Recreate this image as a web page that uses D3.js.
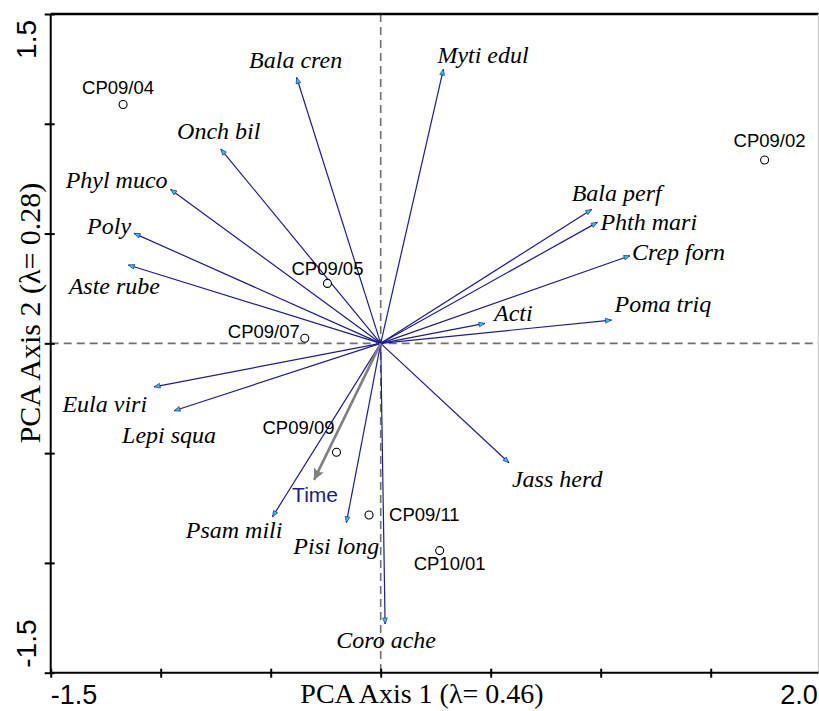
<!DOCTYPE html>
<html>
<head>
<meta charset="utf-8">
<script src="https://cdn.jsdelivr.net/npm/d3@7"></script>
<style>
  html, body { margin: 0; padding: 0; background: #fff; }
  svg { display: block; }
</style>
</head>
<body>
<svg id="chart" width="819" height="711"></svg>
<script>
// ---------------- DATA ----------------
const species  = ["Bala cren","Myti edul","Onch bil","Phyl muco","Poly","Aste rube",
                  "Bala perf","Phth mari","Crep forn","Acti","Poma triq",
                  "Eula viri","Lepi squa","Psam mili","Pisi long","Coro ache","Jass herd"];
const speciesX = [-0.382, 0.285, -0.727, -0.955, -1.121, -1.147,
                   0.959, 0.985, 1.133, 0.474, 1.049,
                  -1.030, -0.939, -0.492, -0.156, 0.020, 0.583];
const speciesY = [ 1.211, 1.249, 0.885, 0.701, 0.501, 0.357,
                   0.610, 0.551, 0.399, 0.091, 0.106,
                  -0.198, -0.307, -0.790, -0.817, -1.278, -0.544];

const samples  = ["CP09/04","CP09/02","CP09/05","CP09/07","CP09/09","CP09/11","CP10/01"];
const sampleX  = [-1.171, 1.745, -0.242, -0.345, -0.201, -0.053, 0.268];
const sampleY  = [ 1.088, 0.835,  0.273,  0.023, -0.496, -0.782, -0.944];

const envVars  = ["Time"];
const envX     = [-0.303];
const envY     = [-0.622];

const xTickValues = [-1.5, -1.0, -0.5, 0, 0.5, 1.0, 1.5, 2.0];
const yTickValues = [-1.5, -1.0, -0.5, 0, 0.5, 1.0, 1.5];
const xTickLabels = ["-1.5", "2.0"];
const yTickLabels = ["1.5", "-1.5"];
const xTitle = "PCA Axis 1 (\u03BB= 0.46)";
const yTitle = "PCA Axis 2 (\u03BB= 0.28)";

// ---------------- LABEL PLACEMENT (pixels, relative to mark) ----------------
const speciesLabelPos = {
  "Bala cren": [-1, -9, "middle"],
  "Myti edul": [-6, -6, "start"],
  "Onch bil":  [-2, -10, "middle"],
  "Phyl muco": [-3, -1, "end"],
  "Poly":      [-3, 1, "end"],
  "Aste rube": [-14, 29, "middle"],
  "Bala perf": [-20, -8, "start"],
  "Phth mari": [3, 8, "start"],
  "Crep forn": [2, 4, "start"],
  "Acti":      [9, -2, "start"],
  "Poma triq": [3, -8, "start"],
  "Eula viri": [-7, 25, "end"],
  "Lepi squa": [-5, 32, "middle"],
  "Psam mili": [10, 21, "end"],
  "Pisi long": [-10, 31, "middle"],
  "Coro ache": [1, 24, "middle"],
  "Jass herd": [3, 24, "start"]
};
const sampleLabelPos = {
  "CP09/04": [-5, -10, "middle"],
  "CP09/02": [5, -13, "middle"],
  "CP09/05": [0, -8, "middle"],
  "CP09/07": [-5, 0, "end"],
  "CP09/09": [-2, -18, "end"],
  "CP09/11": [20, 6, "start"],
  "CP10/01": [-26, 19, "start"]
};
const envLabelPos = { "Time": [1, 22, "middle"] };

// ---------------- CHART ----------------
const svg = d3.select("#chart");
const mLeft = 50.7, mRight = 820.7, mTop = 14, mBottom = 672.7, frameRight = 818.5;
const x = d3.scaleLinear().domain([-1.5, 2.0]).range([mLeft, mRight]);
const y = d3.scaleLinear().domain([-1.5, 1.5]).range([mBottom, mTop]);

const navy = "#1c1c8e";
const serif = "'Liberation Serif','Times New Roman',serif";
const sans = "'Liberation Sans',Arial,sans-serif";

const defs = svg.append("defs");
defs.append("marker")
  .attr("id", "headSp").attr("viewBox", "0 -5 10 10")
  .attr("refX", 10).attr("refY", 0)
  .attr("markerUnits", "userSpaceOnUse")
  .attr("markerWidth", 9).attr("markerHeight", 6)
  .attr("orient", "auto")
  .append("path").attr("d", "M0,-4L10,0L0,4Z")
  .attr("fill", "#35c0f0").attr("stroke", navy).attr("stroke-width", 1);
defs.append("marker")
  .attr("id", "headEnv").attr("viewBox", "0 -5 10 10")
  .attr("refX", 10).attr("refY", 0)
  .attr("markerUnits", "userSpaceOnUse")
  .attr("markerWidth", 18).attr("markerHeight", 11)
  .attr("orient", "auto")
  .append("path").attr("d", "M0,-5L10,0L0,5L2,0Z")
  .attr("fill", "#808080");

// dashed zero lines
svg.append("line")
  .attr("x1", mLeft).attr("x2", frameRight).attr("y1", y(0)).attr("y2", y(0))
  .attr("stroke", "#707070").attr("stroke-width", 1.6).attr("stroke-dasharray", "8,5");
svg.append("line")
  .attr("x1", x(0)).attr("x2", x(0)).attr("y1", mTop).attr("y2", mBottom)
  .attr("stroke", "#707070").attr("stroke-width", 1.6).attr("stroke-dasharray", "8,5");

// frame: top black, right light gray
svg.append("line").attr("x1", mLeft).attr("x2", frameRight).attr("y1", mTop).attr("y2", mTop)
  .attr("stroke", "#000").attr("stroke-width", 2.5);
svg.append("line").attr("x1", frameRight).attr("x2", frameRight).attr("y1", mTop).attr("y2", mBottom)
  .attr("stroke", "#cfcfcf").attr("stroke-width", 1.5);

// axes
const gx = svg.append("g").attr("transform", `translate(0,${mBottom})`)
  .call(d3.axisBottom(x).tickValues(xTickValues).tickFormat("").tickSizeOuter(0).tickSizeInner(5));
gx.select(".domain").attr("stroke", "#000").attr("stroke-width", 2)
  .attr("d", `M${mLeft},0H${frameRight}`);
gx.selectAll(".tick line").attr("y1", -4).attr("y2", 5).attr("stroke", "#000").attr("stroke-width", 2);

const gy = svg.append("g").attr("transform", `translate(${mLeft},0)`)
  .call(d3.axisLeft(y).tickValues(yTickValues).tickFormat("").tickSizeOuter(0).tickSizeInner(5));
gy.select(".domain").attr("stroke", "#000").attr("stroke-width", 2)
  .attr("d", `M0,${mTop}V${mBottom}`);
gy.selectAll(".tick line").attr("x1", -6).attr("x2", 4).attr("stroke", "#000").attr("stroke-width", 2);

// tick labels
svg.append("text").text(xTickLabels[0])
  .attr("x", x(-1.5)).attr("y", 704).attr("text-anchor", "start")
  .attr("font-family", sans).attr("font-size", 27).attr("fill", "#000");
svg.append("text").text(xTickLabels[1])
  .attr("x", x(2.0) - 3).attr("y", 704).attr("text-anchor", "end")
  .attr("font-family", sans).attr("font-size", 27).attr("fill", "#000");
svg.append("text").text(yTickLabels[0])
  .attr("transform", `translate(36,${y(1.5) + 6}) rotate(-90)`).attr("text-anchor", "end")
  .attr("font-family", sans).attr("font-size", 28).attr("fill", "#000");
svg.append("text").text(yTickLabels[1])
  .attr("transform", `translate(36,${y(-1.5) - 5}) rotate(-90)`).attr("text-anchor", "start")
  .attr("font-family", sans).attr("font-size", 28).attr("fill", "#000");

// axis titles
svg.append("text").text(xTitle)
  .attr("x", 422).attr("y", 703).attr("text-anchor", "middle")
  .attr("font-family", serif).attr("font-size", 28).attr("fill", "#000");
svg.append("text").text(yTitle)
  .attr("transform", `translate(40,313) rotate(-90)`).attr("text-anchor", "middle")
  .attr("font-family", serif).attr("font-size", 30).attr("fill", "#000");

// species arrows
const spData = species.map((s, i) => ({ name: s, x: speciesX[i], y: speciesY[i] }));
svg.append("g").selectAll("line").data(spData).join("line")
  .attr("x1", x(0)).attr("y1", y(0))
  .attr("x2", d => x(d.x)).attr("y2", d => y(d.y))
  .attr("stroke", navy).attr("stroke-width", 1.2)
  .attr("marker-end", "url(#headSp)");

// env arrow
const envData = envVars.map((s, i) => ({ name: s, x: envX[i], y: envY[i] }));
svg.append("g").selectAll("line").data(envData).join("line")
  .attr("x1", x(0)).attr("y1", y(0))
  .attr("x2", d => x(d.x)).attr("y2", d => y(d.y))
  .attr("stroke", "#808080").attr("stroke-width", 2.6)
  .attr("marker-end", "url(#headEnv)");

// samples
const smData = samples.map((s, i) => ({ name: s, x: sampleX[i], y: sampleY[i] }));
svg.append("g").selectAll("circle").data(smData).join("circle")
  .attr("cx", d => x(d.x)).attr("cy", d => y(d.y)).attr("r", 4)
  .attr("fill", "#fff").attr("stroke", "#000").attr("stroke-width", 1.1);

// labels
svg.append("g").selectAll("text").data(spData).join("text")
  .text(d => d.name)
  .attr("x", d => x(d.x) + speciesLabelPos[d.name][0])
  .attr("y", d => y(d.y) + speciesLabelPos[d.name][1])
  .attr("text-anchor", d => speciesLabelPos[d.name][2])
  .attr("font-family", serif).attr("font-style", "italic").attr("font-size", 24).attr("fill", "#000");

svg.append("g").selectAll("text").data(smData).join("text")
  .text(d => d.name)
  .attr("x", d => x(d.x) + sampleLabelPos[d.name][0])
  .attr("y", d => y(d.y) + sampleLabelPos[d.name][1])
  .attr("text-anchor", d => sampleLabelPos[d.name][2])
  .attr("font-family", sans).attr("font-size", 18.5).attr("fill", "#000");

svg.append("g").selectAll("text").data(envData).join("text")
  .text(d => d.name)
  .attr("x", d => x(d.x) + envLabelPos[d.name][0])
  .attr("y", d => y(d.y) + envLabelPos[d.name][1])
  .attr("text-anchor", d => envLabelPos[d.name][2])
  .attr("font-family", sans).attr("font-size", 21).attr("fill", "#1c1c8e");
</script>
</body>
</html>
